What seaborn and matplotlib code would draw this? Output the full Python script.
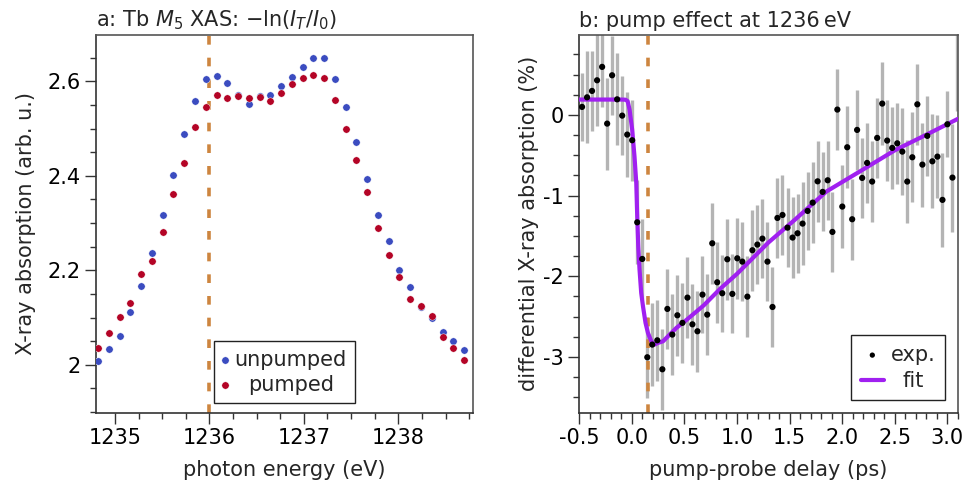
import matplotlib
matplotlib.use("Agg")
import matplotlib.pyplot as plt
from matplotlib.ticker import MultipleLocator, FixedLocator, FixedFormatter
import seaborn as sns
import pandas as pd

# ---------------- data: panel a ----------------
energy = [1234.823, 1234.937, 1235.051, 1235.165, 1235.279, 1235.393, 1235.506,
          1235.620, 1235.734, 1235.848, 1235.962, 1236.076, 1236.190, 1236.304,
          1236.418, 1236.532, 1236.646, 1236.759, 1236.873, 1236.987, 1237.101,
          1237.215, 1237.329, 1237.443, 1237.557, 1237.671, 1237.785, 1237.899,
          1238.012, 1238.126, 1238.240, 1238.354, 1238.468, 1238.582, 1238.696]
unpumped = [2.007, 2.033, 2.061, 2.111, 2.166, 2.236, 2.316, 2.401, 2.488, 2.559,
            2.605, 2.612, 2.596, 2.570, 2.553, 2.569, 2.570, 2.589, 2.610, 2.631,
            2.650, 2.650, 2.604, 2.546, 2.471, 2.393, 2.316, 2.261, 2.201, 2.164,
            2.123, 2.099, 2.070, 2.050, 2.031]
pumped = [2.035, 2.067, 2.102, 2.131, 2.193, 2.220, 2.282, 2.361, 2.428, 2.503,
          2.546, 2.570, 2.564, 2.568, 2.565, 2.567, 2.558, 2.576, 2.594, 2.606,
          2.614, 2.606, 2.560, 2.500, 2.434, 2.366, 2.290, 2.233, 2.185, 2.139,
          2.125, 2.103, 2.059, 2.036, 2.011]
pump_energy = 1236.0
a_xticks = [1235, 1236, 1237, 1238]
a_xticklabels = ["1235", "1236", "1237", "1238"]
a_yticks = [2.0, 2.2, 2.4, 2.6]
a_yticklabels = ["2", "2.2", "2.4", "2.6"]

# ---------------- data: panel b ----------------
delay = [-0.474, -0.426, -0.379, -0.331, -0.283, -0.235, -0.188, -0.140, -0.092, -0.044,
         0.003, 0.051, 0.099, 0.147, 0.194, 0.242, 0.290, 0.338, 0.385, 0.433,
         0.481, 0.529, 0.576, 0.624, 0.672,
         0.717, 0.765, 0.812, 0.860, 0.908, 0.956, 1.003, 1.051, 1.099, 1.147,
         1.194, 1.242, 1.290, 1.338, 1.385, 1.433, 1.481, 1.529, 1.576, 1.624,
         1.672, 1.720, 1.767, 1.815, 1.863,
         1.908, 1.955, 2.002, 2.049, 2.096, 2.143, 2.191, 2.238, 2.286, 2.334,
         2.382, 2.429, 2.477, 2.525, 2.573, 2.620, 2.668, 2.716, 2.764, 2.811,
         2.859, 2.907, 2.955, 3.002, 3.050, 3.098]
signal = [0.099, 0.218, 0.297, 0.429, 0.595, -0.108, 0.491, 0.193, -0.009, -0.244,
          -0.314, -1.331, -1.785, -3.003, -2.846, -2.793, -3.152, -2.404, -2.722, -2.483,
          -2.577, -2.264, -2.595, -2.681, -2.227,
          -2.475, -1.591, -2.074, -2.210, -1.789, -2.218, -1.777, -1.818, -2.252, -1.677,
          -1.607, -1.533, -1.818, -2.380, -1.277, -1.240, -1.397, -1.520, -1.467, -1.347,
          -1.190, -1.087, -0.823, -0.954, -0.810,
          -1.450, 0.066, -1.136, -0.401, -1.293, -0.186, -0.781, -0.595, -0.826, -0.285,
          0.140, -0.318, -0.409, -0.352, -0.455, -0.826, -0.525, 0.131, -0.616, -0.260,
          -0.575, -0.517, -1.053, -0.116, -0.777, 1.080]
signal_err = [0.42, 0.57, 0.50, 0.57, 0.50, 0.57, 0.49, 0.57, 0.49, 0.53,
              0.50, 0.52, 0.50, 0.50, 0.51, 0.50, 0.50, 0.50, 0.50, 0.50,
              0.50, 0.50, 0.50, 0.50, 0.48,
              0.50, 0.50, 0.50, 0.48, 0.50, 0.49, 0.50, 0.49, 0.50, 0.50,
              0.49, 0.49, 0.49, 0.49, 0.50, 0.50, 0.49, 0.50, 0.49, 0.51,
              0.48, 0.50, 0.50, 0.49, 0.49,
              0.50, 0.50, 0.51, 0.51, 0.50, 0.50, 0.50, 0.50, 0.50, 0.50,
              0.51, 0.50, 0.51, 0.50, 0.54, 0.51, 0.56, 0.50, 0.52, 0.50,
              0.58, 0.51, 0.58, 0.41, 0.67, 1.035]
fit_delay = [-0.5, -0.3, -0.1, -0.06, -0.04, -0.022, 0.003, 0.025, 0.042, 0.051,
             0.061, 0.073, 0.089, 0.106, 0.130, 0.153, 0.185, 0.216, 0.249, 0.297,
             0.360, 0.424, 0.52, 0.684, 0.844, 1.0, 1.3, 1.55, 1.85, 2.17,
             2.5, 2.81, 3.1]
fit_signal = [0.19, 0.19, 0.19, 0.188, 0.17, 0.066, -0.182, -0.513, -0.843, -1.256,
              -1.628, -1.917, -2.206, -2.372, -2.577, -2.701, -2.805, -2.846, -2.825, -2.805,
              -2.722, -2.639, -2.54, -2.36, -2.15, -1.97, -1.58, -1.30, -0.95, -0.70,
              -0.44, -0.24, -0.05]
pump_delay = 0.15
b_xticks = [-0.5, 0.0, 0.5, 1.0, 1.5, 2.0, 2.5, 3.0]
b_xticklabels = ["-0.5", "0.0", "0.5", "1.0", "1.5", "2.0", "2.5", "3.0"]
b_yticks = [0, -1, -2, -3]
b_yticklabels = ["0", "-1", "-2", "-3"]

# ---------------- style ----------------
sns.set_theme(style="ticks")
plt.rcParams["font.family"] = ["DejaVu Sans"]
plt.rcParams["mathtext.fontset"] = "dejavusans"
FS = 15
INK = "#333333"
BLUE = "#3b4cc0"
RED = "#b40426"
ORANGE = "#cd853f"
PURPLE = "#a020f0"
GREY = "#b4b4b4"

fig = plt.figure(figsize=(9.68, 4.91), dpi=100)
W, H = 968.0, 491.0
ax1 = fig.add_axes([96 / W, 1 - 412.5 / H, 377 / W, 377.5 / H])
ax2 = fig.add_axes([579.3 / W, 1 - 412.7 / H, 378.4 / W, 377.7 / H])


def style_axes(ax):
    for name, s in ax.spines.items():
        s.set_visible(True)
        s.set_color(INK if name in ("left", "bottom") else "#555555")
        s.set_linewidth(1.2)
    ax.tick_params(which="major", direction="out", length=8, width=1.0,
                   color=INK, labelsize=FS, labelcolor="black", pad=3,
                   top=False, right=False)
    ax.tick_params(which="minor", direction="out", length=4.5, width=1.0,
                   color=INK, top=False, right=False)


# ---------------- panel a ----------------
df_u = pd.DataFrame({"E": energy, "A": unpumped})
df_p = pd.DataFrame({"E": energy, "A": pumped})
ax1.axvline(pump_energy, color=ORANGE, lw=2.6, ls=(0, (2.4, 3.6)), zorder=1)
sns.scatterplot(data=df_u, x="E", y="A", ax=ax1, color=BLUE, s=28,
                edgecolor="white", linewidth=0.3, zorder=3, legend=False)
h_u = ax1.collections[-1]
sns.scatterplot(data=df_p, x="E", y="A", ax=ax1, color=RED, s=28,
                edgecolor="white", linewidth=0.3, zorder=3, legend=False)
h_p = ax1.collections[-1]
ax1.set_xlim(1234.80, 1238.79)
ax1.set_ylim(1.899, 2.698)
ax1.xaxis.set_major_locator(FixedLocator(a_xticks))
ax1.xaxis.set_major_formatter(FixedFormatter(a_xticklabels))
ax1.yaxis.set_major_locator(FixedLocator(a_yticks))
ax1.yaxis.set_major_formatter(FixedFormatter(a_yticklabels))
ax1.xaxis.set_minor_locator(MultipleLocator(0.25))
ax1.yaxis.set_minor_locator(MultipleLocator(0.05))
style_axes(ax1)
ax1.set_xlabel("photon energy (eV)", fontsize=FS, labelpad=8.5)
ax1.set_ylabel("X-ray absorption (arb. u.)", fontsize=FS, labelpad=8.5)
ax1.set_title(r"a: Tb $M_5$ XAS: $-\ln(I_T/I_0)$", loc="left", fontsize=FS)
leg1 = ax1.legend(handles=[h_u, h_p], labels=["unpumped", "pumped"],
                  loc="lower center", fontsize=FS, frameon=True, fancybox=False,
                  framealpha=1, edgecolor="#222222", handlelength=0.25,
                  handletextpad=0.35, labelspacing=0.25, borderpad=0.4,
                  borderaxespad=0.45)
leg1.get_frame().set_linewidth(1.0)

# ---------------- panel b ----------------
df_d = pd.DataFrame({"t": delay, "v": signal})
df_f = pd.DataFrame({"t": fit_delay, "v": fit_signal})
ax2.errorbar(delay, signal, yerr=signal_err, fmt="none", ecolor=GREY,
             elinewidth=2.4, capsize=0, zorder=1)
ax2.axvline(pump_delay, color=ORANGE, lw=2.6, ls=(0, (2.4, 3.6)), zorder=2)
sns.lineplot(data=df_f, x="t", y="v", ax=ax2, color=PURPLE, lw=3.0,
             estimator=None, sort=False, zorder=3, legend=False)
h_fit = ax2.lines[-1]
sns.scatterplot(data=df_d, x="t", y="v", ax=ax2, color="black", s=20,
                edgecolor="none", linewidth=0, zorder=4, legend=False)
h_exp = ax2.collections[-1]
ax2.set_xlim(-0.5, 3.1)
ax2.set_ylim(-3.69, 0.99)
ax2.xaxis.set_major_locator(FixedLocator(b_xticks))
ax2.xaxis.set_major_formatter(FixedFormatter(b_xticklabels))
ax2.yaxis.set_major_locator(FixedLocator(b_yticks))
ax2.yaxis.set_major_formatter(FixedFormatter(b_yticklabels))
ax2.xaxis.set_minor_locator(MultipleLocator(0.1))
ax2.yaxis.set_minor_locator(MultipleLocator(0.25))
style_axes(ax2)
ax2.set_xlabel("pump-probe delay (ps)", fontsize=FS, labelpad=8.5)
ax2.set_ylabel("differential X-ray absorption (%)", fontsize=FS, labelpad=3)
ax2.set_title("b: pump effect at 1236\u2009eV", loc="left", fontsize=FS)
leg2 = ax2.legend(handles=[h_exp, h_fit], labels=["exp.", "fit"],
                  loc="lower right", fontsize=FS, frameon=True, fancybox=False,
                  framealpha=1, edgecolor="#222222", handlelength=1.1,
                  handletextpad=0.35, labelspacing=0.3, borderpad=0.45,
                  borderaxespad=0.6, markerscale=0.85)
leg2.get_frame().set_linewidth(1.0)

# center legend labels like the reference
fig.canvas.draw()
renderer = fig.canvas.get_renderer()
for leg in (leg1, leg2):
    texts = leg.get_texts()
    widths = [t.get_window_extent(renderer).width for t in texts]
    wmax = max(widths)
    for t, w in zip(texts, widths):
        t.set_x((wmax - w) / 2.0)

fig.savefig("out.png", dpi=100)
